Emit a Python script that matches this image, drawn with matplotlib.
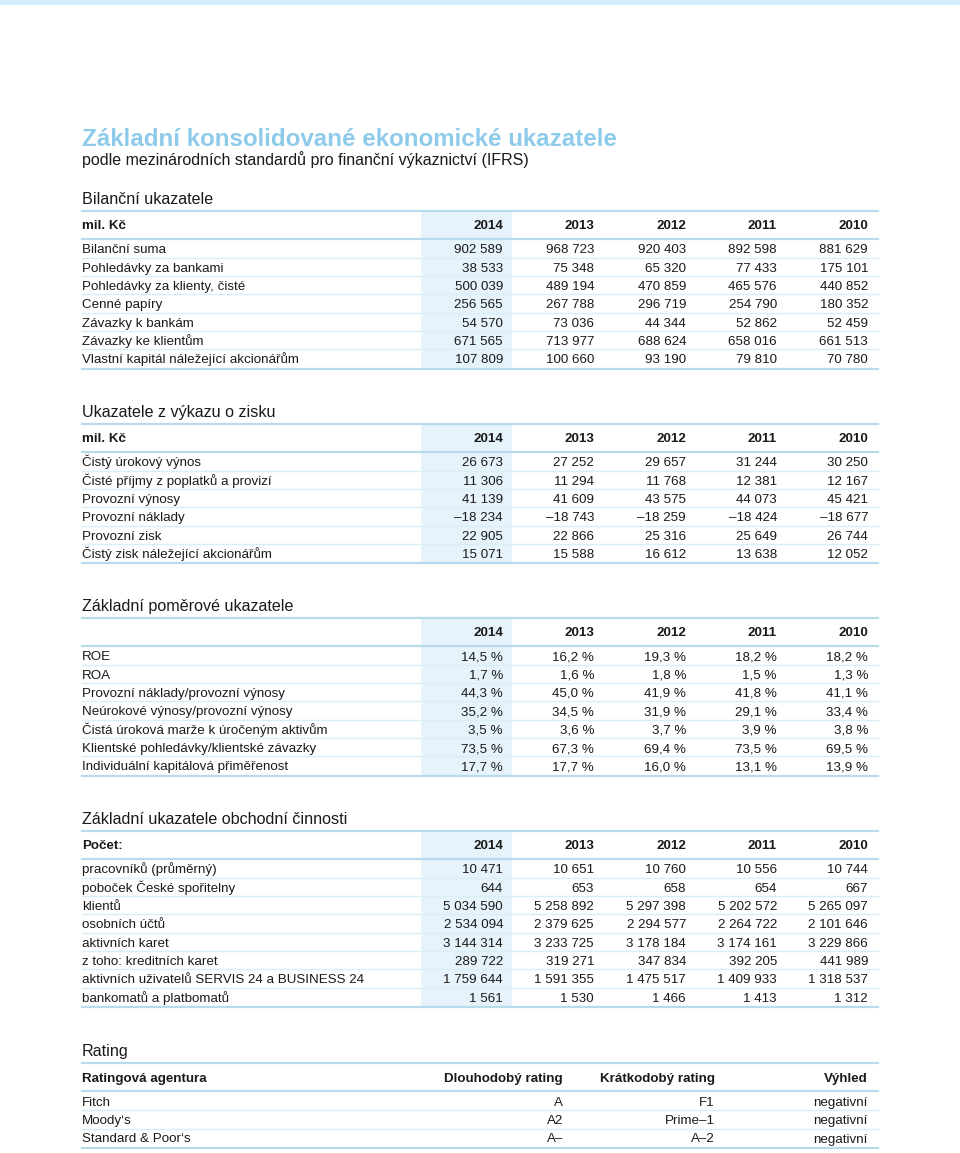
import matplotlib
matplotlib.use('Agg')
import matplotlib.pyplot as plt

plt.rcParams['font.family'] = ['Liberation Sans', 'DejaVu Sans']

years = ['2014', '2013', '2012', '2011', '2010']

# Bilanční ukazatele
bil_labels = ['Bilanční suma', 'Pohledávky za bankami', 'Pohledávky za klienty, čisté',
              'Cenné papíry', 'Závazky k bankám', 'Závazky ke klientům',
              'Vlastní kapitál náležející akcionářům']
bil_values = [
    ['902 589', '968 723', '920 403', '892 598', '881 629'],
    ['38 533', '75 348', '65 320', '77 433', '175 101'],
    ['500 039', '489 194', '470 859', '465 576', '440 852'],
    ['256 565', '267 788', '296 719', '254 790', '180 352'],
    ['54 570', '73 036', '44 344', '52 862', '52 459'],
    ['671 565', '713 977', '688 624', '658 016', '661 513'],
    ['107 809', '100 660', '93 190', '79 810', '70 780'],
]

# Ukazatele z výkazu o zisku
zisk_labels = ['Čistý úrokový výnos', 'Čisté příjmy z poplatků a provizí', 'Provozní výnosy',
               'Provozní náklady', 'Provozní zisk', 'Čistý zisk náležející akcionářům']
zisk_values = [
    ['26 673', '27 252', '29 657', '31 244', '30 250'],
    ['11 306', '11 294', '11 768', '12 381', '12 167'],
    ['41 139', '41 609', '43 575', '44 073', '45 421'],
    ['–18 234', '–18 743', '–18 259', '–18 424', '–18 677'],
    ['22 905', '22 866', '25 316', '25 649', '26 744'],
    ['15 071', '15 588', '16 612', '13 638', '12 052'],
]

# Základní poměrové ukazatele
pom_labels = ['ROE', 'ROA', 'Provozní náklady/provozní výnosy', 'Neúrokové výnosy/provozní výnosy',
              'Čistá úroková marže k úročeným aktivům', 'Klientské pohledávky/klientské závazky',
              'Individuální kapitálová přiměřenost']
pom_values = [
    ['14,5 %', '16,2 %', '19,3 %', '18,2 %', '18,2 %'],
    ['1,7 %', '1,6 %', '1,8 %', '1,5 %', '1,3 %'],
    ['44,3 %', '45,0 %', '41,9 %', '41,8 %', '41,1 %'],
    ['35,2 %', '34,5 %', '31,9 %', '29,1 %', '33,4 %'],
    ['3,5 %', '3,6 %', '3,7 %', '3,9 %', '3,8 %'],
    ['73,5 %', '67,3 %', '69,4 %', '73,5 %', '69,5 %'],
    ['17,7 %', '17,7 %', '16,0 %', '13,1 %', '13,9 %'],
]

# Základní ukazatele obchodní činnosti
obch_labels = ['pracovníků (průměrný)', 'poboček České spořitelny', 'klientů', 'osobních účtů',
               'aktivních karet', 'z toho: kreditních karet',
               'aktivních uživatelů SERVIS 24 a BUSINESS 24', 'bankomatů a platbomatů']
obch_values = [
    ['10 471', '10 651', '10 760', '10 556', '10 744'],
    ['644', '653', '658', '654', '667'],
    ['5 034 590', '5 258 892', '5 297 398', '5 202 572', '5 265 097'],
    ['2 534 094', '2 379 625', '2 294 577', '2 264 722', '2 101 646'],
    ['3 144 314', '3 233 725', '3 178 184', '3 174 161', '3 229 866'],
    ['289 722', '319 271', '347 834', '392 205', '441 989'],
    ['1 759 644', '1 591 355', '1 475 517', '1 409 933', '1 318 537'],
    ['1 561', '1 530', '1 466', '1 413', '1 312'],
]

# Rating
rat_header = ['Ratingová agentura', 'Dlouhodobý rating', 'Krátkodobý rating', 'Výhled']
rat_agency = ['Fitch', 'Moody‘s', 'Standard & Poor‘s']
rat_long = ['A', 'A2', 'A–']
rat_short = ['F1', 'Prime–1', 'A–2']
rat_outlook = ['negativní', 'negativní', 'negativní']

TXT = '#1a1a1a'
TITLE = '#8ecbea'
HLINE = '#b7dbec'
RLINE = '#dbedf6'
SHADE = '#e6f3fb'
FS = 9.6
HS = 11.6

fig = plt.figure(figsize=(9.6, 11.53), dpi=100)
ax = fig.add_axes([0, 0, 1, 1])
ax.set_xlim(0, 960)
ax.set_ylim(1153, 0)
ax.axis('off')

X0, X1 = 82, 878
col_x = [503, 594, 686, 777, 868]
ROW = 18.35
B = 4.8      # baseline offset for body text
BH = 5.8     # baseline offset for headings


def txt(x, y, s, bold=False, ha='left', fs=FS, off=B):
    ax.text(x, y + off, s, color=TXT, fontsize=fs, va='baseline', ha=ha,
            fontweight='bold' if bold else 'normal')


ax.axhspan(0, 5, color='#d2ecf9', lw=0)
ax.text(X0, 137 + 8.7, 'Základní konsolidované ekonomické ukazatele', color=TITLE,
        fontsize=17.4, fontweight='bold', va='baseline')
txt(X0, 159, 'podle mezinárodních standardů pro finanční výkaznictví (IFRS)', fs=11.5, off=5.7)


def table(head_y, heading, corner, labels, values):
    top = head_y + 13
    hdr = top + 13
    mid = top + 28
    txt(X0, head_y, heading, fs=HS, off=BH)
    first = mid + 9.5
    n = len(labels)
    bottom = first + (n - 1) * ROW + 10
    ax.fill_between([421, 512], top, bottom, color=SHADE, lw=0)
    ax.plot([X0, X1], [top, top], color=HLINE, lw=1.6)
    ax.plot([X0, X1], [mid, mid], color=HLINE, lw=1.6)
    ax.plot([X0, X1], [bottom, bottom], color=HLINE, lw=1.6)
    if corner:
        txt(X0, hdr, corner, bold=True)
    for x, yr in zip(col_x, years):
        txt(x, hdr, yr, bold=True, ha='right')
    for i, (lab, vals) in enumerate(zip(labels, values)):
        y = first + i * ROW
        txt(X0, y, lab)
        for x, v in zip(col_x, vals):
            txt(x, y, v, ha='right')
        if i < n - 1:
            ax.plot([X0, X1], [y + ROW / 2, y + ROW / 2], color=RLINE, lw=1)


table(198, 'Bilanční ukazatele', 'mil. Kč', bil_labels, bil_values)
table(411, 'Ukazatele z výkazu o zisku', 'mil. Kč', zisk_labels, zisk_values)
table(605, 'Základní poměrové ukazatele', '', pom_labels, pom_values)
table(818, 'Základní ukazatele obchodní činnosti', 'Počet:', obch_labels, obch_values)

# Rating table
head_y = 1050
top, hdr, mid = head_y + 13, head_y + 27, head_y + 41
txt(X0, head_y, 'Rating', fs=HS, off=BH)
rx = [563, 715, 868]
txt(X0, hdr, rat_header[0], bold=True)
for x, h in zip(rx, rat_header[1:]):
    txt(x, hdr, h, bold=True, ha='right')
first = mid + 10
for i in range(len(rat_agency)):
    y = first + i * ROW
    txt(X0, y, rat_agency[i])
    for x, v in zip(rx, [rat_long[i], rat_short[i], rat_outlook[i]]):
        txt(x, y, v, ha='right')
    if i < len(rat_agency) - 1:
        ax.plot([X0, X1], [y + ROW / 2, y + ROW / 2], color=RLINE, lw=1)
bottom = first + (len(rat_agency) - 1) * ROW + 10
for yy in (top, mid, bottom):
    ax.plot([X0, X1], [yy, yy], color=HLINE, lw=1.6)

fig.savefig('out.png', dpi=100, facecolor='white')
